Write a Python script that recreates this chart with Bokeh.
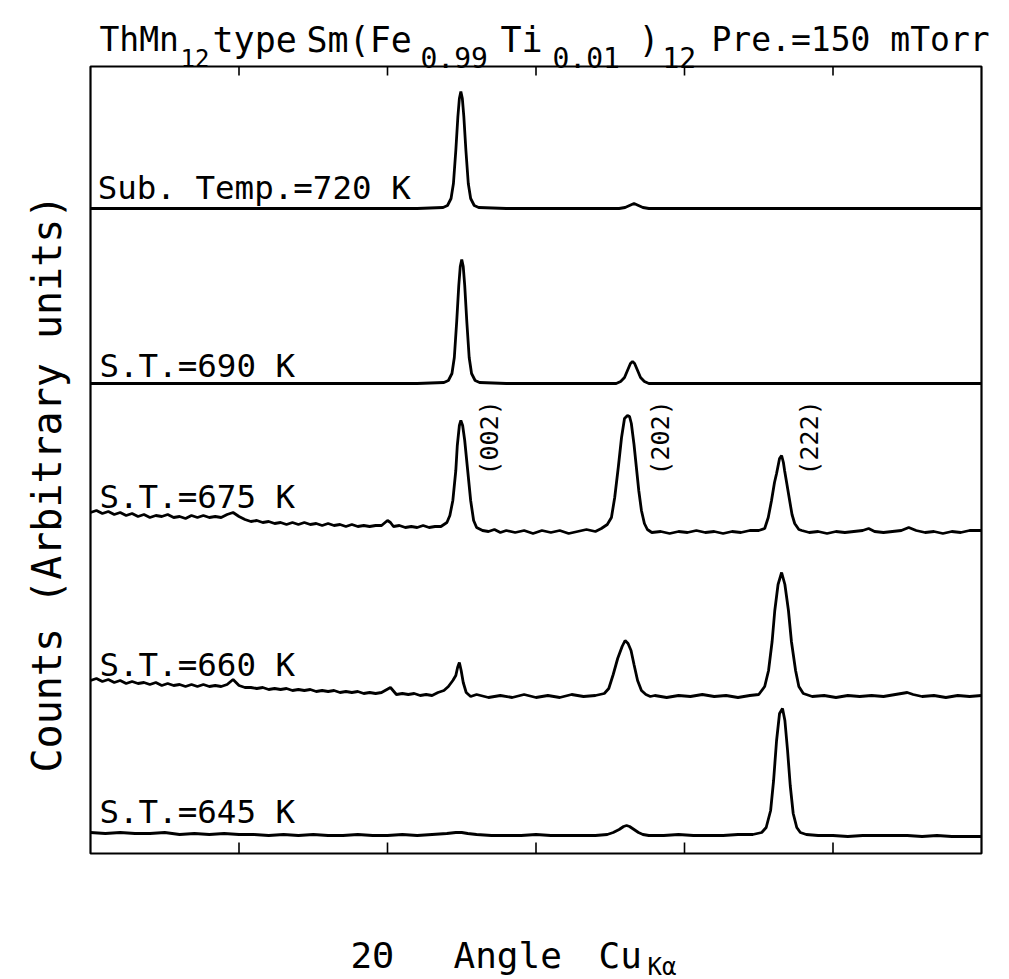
from math import pi
from bokeh.plotting import figure
from bokeh.models import Label, Range1d
from bokeh.embed import file_html
from bokeh.resources import INLINE

# ---------------- data ----------------
x_lim = (25.0, 55.0)           # 2-theta (deg) shown inside the box
y_lim = (0.0, 787.0)           # counts, arbitrary units (stacked)
tick_deg = [30, 35, 40, 45, 50]

sample_labels = ["Sub. Temp.=720 K", "S.T.=690 K", "S.T.=675 K", "S.T.=660 K", "S.T.=645 K"]
offsets = [645, 470, 321, 157, 18]          # baseline of each stacked pattern
label_x = [25.24, 25.30, 25.30, 25.30, 25.30]
label_y = [666, 488, 357, 189, 42]

hkl_labels = ["(002)", "(202)", "(222)"]
hkl_x = [38.42, 44.19, 49.22]
hkl_y = [378, 378, 378]

tt_720 = [25.0, 26.0, 27.0, 28.0, 29.0, 30.0, 31.0, 32.0, 33.0, 34.0, 35.0, 36.0,
          36.87, 37.02, 37.14, 37.22, 37.30, 37.37, 37.42, 37.47, 37.52, 37.57, 37.64, 37.72, 37.80, 37.92, 38.07,
          39.0, 40.0, 41.0, 42.0, 42.8, 43.0, 43.15, 43.3, 43.45, 43.6, 43.8,
          45.0, 46.0, 47.0, 48.0, 49.0, 50.0, 51.0, 52.0, 53.0, 54.0, 55.0]
cnt_720 = [0, 0, 0, 0, 0, 0, 0, 0, 0, 0, 0, 0,
           1, 3, 10, 25, 58, 92, 110, 117, 110, 92, 58, 25, 10, 3, 1,
           0, 0, 0, 0, 0, 1, 3, 5, 3, 1, 0,
           0, 0, 0, 0, 0, 0, 0, 0, 0, 0, 0]

tt_690 = [25.0, 26.0, 27.0, 28.0, 29.0, 30.0, 31.0, 32.0, 33.0, 34.0, 35.0, 36.0,
          36.9, 37.05, 37.17, 37.25, 37.33, 37.40, 37.45, 37.50, 37.55, 37.60, 37.67, 37.75, 37.83, 37.95, 38.1,
          39.0, 40.0, 41.0, 42.0,
          42.7, 42.85, 42.98, 43.08, 43.18, 43.25, 43.32, 43.42, 43.52, 43.65, 43.8,
          45.0, 46.0, 47.0, 48.0, 49.0, 50.0, 51.0, 52.0, 53.0, 54.0, 55.0]
cnt_690 = [0, 0, 0, 0, 0, 0, 0, 0, 0, 0, 0, 0,
           1, 3, 10, 26, 62, 98, 117, 124, 117, 98, 62, 26, 10, 3, 1,
           0, 0, 0, 0,
           0, 2, 6, 13, 20, 22, 20, 13, 6, 2, 0,
           0, 0, 0, 0, 0, 0, 0, 0, 0, 0, 0]

tt_675 = [25.0, 25.2, 25.4, 25.6, 25.8, 26.0, 26.2, 26.4, 26.6, 26.8, 27.0, 27.2, 27.4, 27.6, 27.8,
          28.0, 28.2, 28.4, 28.6, 28.8, 29.0, 29.2, 29.4, 29.6, 29.8, 30.0, 30.2, 30.4, 30.6, 30.8,
          31.0, 31.2, 31.4, 31.6, 31.8, 32.0, 32.2, 32.4, 32.6, 32.8, 33.0, 33.2, 33.4, 33.6, 33.8,
          34.0, 34.2, 34.4, 34.6, 34.8, 35.0, 35.1, 35.2, 35.4, 35.6, 35.8, 36.0, 36.2, 36.4, 36.6, 36.8,
          37.0, 37.1, 37.2, 37.3, 37.35, 37.42, 37.47, 37.53, 37.6, 37.7, 37.8, 37.9, 38.0,
          38.2, 38.4, 38.6, 38.8, 39.0, 39.3, 39.6, 39.9, 40.2, 40.5, 40.8, 41.1, 41.4, 41.7, 42.0, 42.2,
          42.4, 42.54, 42.65, 42.77, 42.88, 42.98, 43.08, 43.15, 43.21, 43.3, 43.38, 43.46, 43.55, 43.65, 43.75, 43.9,
          44.2, 44.5, 44.8, 45.1, 45.4, 45.7, 46.0, 46.3, 46.6, 46.9, 47.2, 47.5,
          47.7, 47.82, 47.93, 48.03, 48.1, 48.2, 48.27, 48.33, 48.37, 48.45, 48.54, 48.62, 48.71, 48.85, 48.95, 49.2,
          49.5, 49.8, 50.1, 50.4, 50.7, 51.0, 51.2, 51.4, 51.7, 52.0, 52.3, 52.55, 52.8, 53.1, 53.4, 53.7,
          54.0, 54.3, 54.6, 55.0]
cnt_675 = [20, 22, 19, 21, 18, 20, 17, 19, 16, 18, 15, 17, 16, 18, 15,
           16, 14, 17, 15, 17, 15, 16, 15, 18, 20, 16, 13, 11, 12, 10,
           11, 9, 10, 8, 10, 8, 10, 8, 9, 7, 9, 7, 8, 6, 8,
           6, 7, 6, 7, 7, 12, 10, 6, 7, 5, 6, 5, 7, 5, 6, 6,
           10, 17, 32, 62, 87, 107, 112, 107, 92, 62, 32, 12, 5,
           2, 1, 3, 0, 2, 0, 2, -1, 2, 0, 2, -1, 1, 3, 1, 4,
           8, 15, 35, 65, 95, 114, 117, 116, 109, 88, 65, 42, 22, 9, 3, 0,
           1, -1, 1, 0, 2, 0, 1, -1, 1, 0, 2, 2,
           4, 15, 32, 50, 59, 74, 77, 70, 62, 48, 32, 18, 9, 3, 2, 0,
           1, -1, 1, 0, 1, 2, 4, 1, 0, 1, 2, 5, 2, 0, 1, -1,
           1, 0, 2, 2]

tt_660 = [25.0, 25.2, 25.4, 25.6, 25.8, 26.0, 26.2, 26.4, 26.6, 26.8, 27.0, 27.2, 27.4, 27.6, 27.8,
          28.0, 28.2, 28.4, 28.6, 28.8, 29.0, 29.2, 29.4, 29.6, 29.8, 30.0, 30.2, 30.4, 30.6, 30.8,
          31.0, 31.2, 31.4, 31.6, 31.8, 32.0, 32.2, 32.4, 32.6, 32.8, 33.0, 33.2, 33.4, 33.6, 33.8,
          34.0, 34.2, 34.4, 34.6, 34.8, 35.1, 35.3, 35.5, 35.7, 35.9, 36.1, 36.3, 36.5, 36.7, 36.9,
          37.05, 37.2, 37.3, 37.36, 37.42, 37.48, 37.55, 37.65, 37.8,
          38.0, 38.4, 38.8, 39.2, 39.6, 40.0, 40.4, 40.8, 41.2, 41.6, 42.0, 42.3,
          42.45, 42.6, 42.75, 42.9, 43.0, 43.1, 43.2, 43.3, 43.42, 43.55, 43.7, 43.85,
          44.0, 44.4, 44.8, 45.2, 45.6, 46.0, 46.4, 46.8, 47.2, 47.5,
          47.7, 47.83, 47.95, 48.04, 48.15, 48.27, 48.38, 48.5, 48.6, 48.74, 48.85, 49.0,
          49.3, 49.7, 50.1, 50.5, 50.9, 51.3, 51.7, 52.1, 52.5, 52.7, 53.0, 53.4, 53.8, 54.2, 54.6, 55.0]
cnt_660 = [16, 18, 15, 17, 14, 16, 13, 15, 13, 14, 12, 14, 11, 13, 11,
           12, 10, 12, 10, 12, 10, 11, 10, 12, 17, 11, 9, 9, 8, 9,
           7, 8, 7, 8, 6, 7, 6, 7, 5, 6, 5, 6, 4, 5, 4,
           5, 3, 4, 3, 4, 9, 2, 3, 2, 3, 1, 2, 1, 4, 6,
           10, 16, 21, 29, 34, 26, 14, 4, 0,
           2, -1, 1, -1, 2, -1, 1, -1, 2, 0, 1, 3,
           8, 22, 38, 50, 56, 53, 46, 32, 16, 6, 2, 0,
           1, -1, 1, 0, 2, 0, 1, -1, 1, 2,
           10, 26, 55, 86, 112, 124, 112, 86, 55, 26, 10, 3,
           0, 1, -1, 1, 0, 1, 0, 2, 4, 2, 0, 1, -1, 1, 0, 1]

tt_645 = [25.0, 25.5, 26.0, 26.5, 27.0, 27.5, 28.0, 28.5, 29.0, 29.5, 30.0, 30.5, 31.0, 31.5, 32.0,
          32.5, 33.0, 33.5, 34.0, 34.5, 35.0, 35.5, 36.0, 36.5, 37.0, 37.3, 37.5, 37.7, 38.0, 38.5,
          39.0, 39.5, 40.0, 40.5, 41.0, 41.5, 42.0, 42.4, 42.6, 42.8, 42.95, 43.05, 43.15, 43.3, 43.45,
          43.6, 43.8, 44.3, 44.8, 45.3, 45.8, 46.3, 46.8, 47.3, 47.6, 47.75, 47.9, 48.0, 48.1, 48.2,
          48.3, 48.38, 48.47, 48.56, 48.66, 48.78, 48.9, 49.1, 49.5, 50.0, 50.5, 51.0, 51.5, 52.0, 52.5,
          53.0, 53.5, 54.0, 54.5, 55.0]
cnt_645 = [3, 2, 3, 2, 2, 3, 1, 2, 1, 2, 1, 1, 0, 1, 0,
           1, 0, 0, 1, 0, 0, 1, 0, 1, 2, 3, 3, 2, 1, 0,
           0, 0, 1, 0, 0, 0, 0, 1, 3, 6, 9, 10, 9, 6, 3,
           1, 0, 0, 1, 0, 0, 0, 1, 1, 3, 8, 25, 55, 95, 122,
           127, 115, 85, 50, 22, 8, 3, 1, 0, 0, -1, 0, 0, 0, 0,
           -1, 0, -1, -1, -1]

patterns_tt = [tt_720, tt_690, tt_675, tt_660, tt_645]
patterns_cnt = [cnt_720, cnt_690, cnt_675, cnt_660, cnt_645]

FONT = "DejaVu Sans Mono"

# ---------------- layout (pixel margins around the data box) ----------------
W, H = 1009, 979
m_left, m_right, m_top, m_bottom = 90, 28, 66, 126
dx = (x_lim[1] - x_lim[0]) / (W - m_left - m_right)
dy = (y_lim[1] - y_lim[0]) / (H - m_top - m_bottom)
full_x = Range1d(x_lim[0] - m_left * dx, x_lim[1] + m_right * dx)
full_y = Range1d(y_lim[0] - m_bottom * dy, y_lim[1] + m_top * dy)


def px2x(px):
    return full_x.start + px * dx


def py2y(py):
    return full_y.end - py * dy


# title line with subscripts: (text, left px, baseline px, size)
title_pieces = [("ThMn", 99, 39, "33px"), ("12", 180, 57, "24px"),
                ("type", 212, 39, "35px"), ("Sm(Fe", 306, 39, "35px"),
                ("0.99", 420, 57, "28px"), ("Ti", 500, 39, "35px"),
                ("0.01", 552, 57, "28px"), (")", 638, 39, "35px"),
                ("12", 662, 57, "28px"), ("Pre.=150 mTorr", 711, 39, "33px")]
xlabel_pieces = [("2Θ", 350, 955, "36px"), ("Angle", 453, 955, "36px"),
                 ("Cu", 598, 955, "36px"), ("Kα", 647, 966, "24px")]
ylabel_text = "Counts  (Arbitrary units)"
ylabel_px = (46, 471)

p = figure(width=W, height=H, output_backend="svg", toolbar_location=None,
           x_range=full_x, y_range=full_y,
           x_axis_location=None, y_axis_location=None,
           min_border=0)
p.grid.visible = False
p.outline_line_color = None
p.background_fill_color = "white"
p.border_fill_color = "white"

# data box (frame) and its inward ticks, bottom and top
p.quad(left=[x_lim[0]], right=[x_lim[1]], bottom=[y_lim[0]], top=[y_lim[1]],
       fill_color=None, line_color="black", line_width=2.2)
p.segment(x0=tick_deg, y0=[y_lim[0]] * len(tick_deg), x1=tick_deg,
          y1=[y_lim[0] + 11 * dy] * len(tick_deg), line_color="black", line_width=1.6)
p.segment(x0=tick_deg, y0=[y_lim[1]] * len(tick_deg), x1=tick_deg,
          y1=[y_lim[1] - 9 * dy] * len(tick_deg), line_color="black", line_width=1.6)

for tt, cnt, off in zip(patterns_tt, patterns_cnt, offsets):
    p.line(tt, [off + c for c in cnt], line_color="black", line_width=2.8)

for txt, x, y in zip(sample_labels, label_x, label_y):
    p.add_layout(Label(x=x, y=y, text=txt, text_font=FONT, text_font_size="32.5px",
                       text_align="left", text_baseline="alphabetic", text_color="black"))

for txt, x, y in zip(hkl_labels, hkl_x, hkl_y):
    p.add_layout(Label(x=x, y=y, text=txt, text_font=FONT, text_font_size="25px",
                       angle=pi / 2, text_align="left", text_baseline="middle", text_color="black"))

for txt, px, py, sz in title_pieces + xlabel_pieces:
    p.add_layout(Label(x=px2x(px), y=py2y(py), text=txt, text_font=FONT, text_font_size=sz,
                       text_align="left", text_baseline="alphabetic", text_color="black"))

p.add_layout(Label(x=px2x(ylabel_px[0]), y=py2y(ylabel_px[1]), text=ylabel_text, text_font=FONT,
                   text_font_size="40px", angle=pi / 2, text_align="center",
                   text_baseline="alphabetic", text_color="black"))

open("out.html", "w").write(file_html(p, INLINE))
